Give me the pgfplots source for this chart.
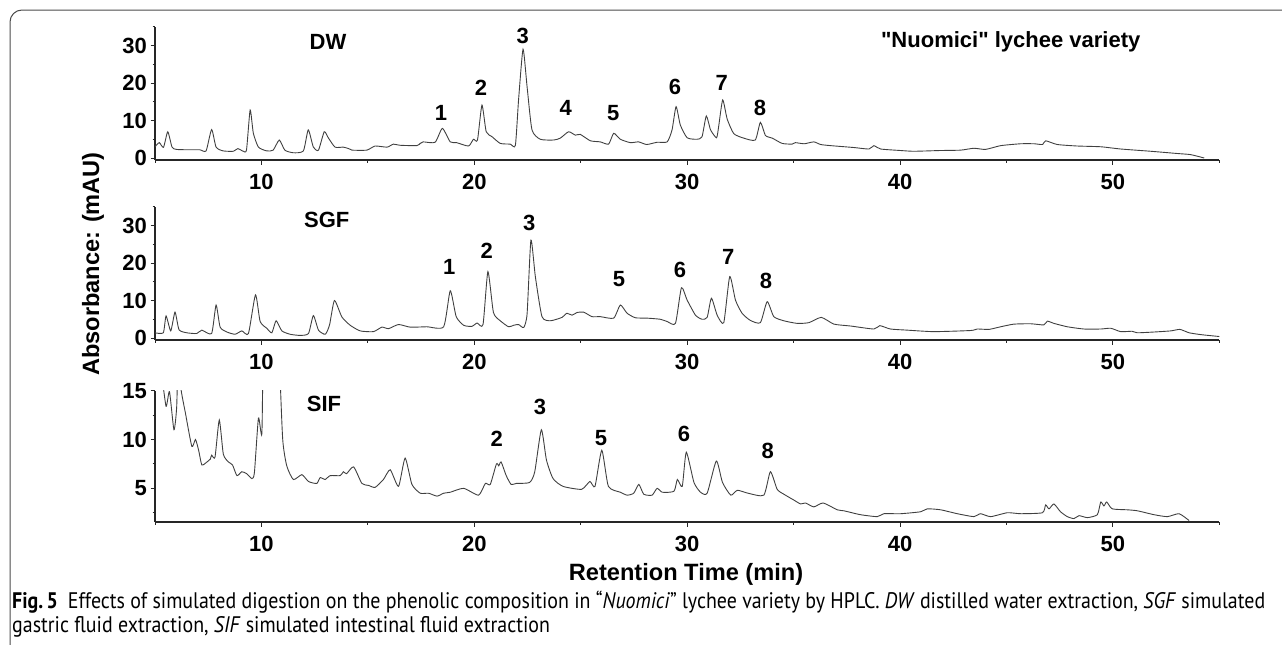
\documentclass[border=0pt]{standalone}
\usepackage{fontspec}
\setmainfont{Liberation Sans}[Ligatures=TeXOff]
\newfontfamily\capfont{PT Sans}
\usepackage{graphicx}
\usepackage{pgfplots}
\usepackage{pgfplotstable}
\pgfplotsset{compat=1.18}

\newcommand\lbl{\fontsize{22}{26}\selectfont\bfseries}
\newcommand\ttl{\fontsize{23.6}{28}\selectfont\bfseries}

% DW: distilled water extraction
\pgfplotstableread{
t y
5.0 3.0
5.2 4.1
5.4 2.85
5.6 7.0
5.8 2.9
6.0 2.3
6.5 2.2
7.1 2.2
7.4 1.9
7.66 7.6
7.87 2.9
8.2 1.9
8.68 1.8
8.89 2.5
9.15 1.8
9.3 2.2
9.47 12.8
9.62 6.6
9.86 2.9
10.25 1.9
10.55 2.1
10.84 4.8
11.1 2.1
11.5 1.4
11.97 1.9
12.2 7.5
12.44 2.9
12.68 2.1
12.95 7.0
13.15 5.3
13.46 2.9
13.85 2.9
14.1 2.5
14.25 2.1
14.95 2.1
15.34 3.2
15.9 2.9
16.2 3.7
16.5 3.4
17.3 3.3
17.46 3.9
17.6 4.3
18.16 4.2
18.5 7.9
18.87 4.3
19.17 4.1
19.73 3.2
19.96 5.0
20.15 4.8
20.36 14.1
20.56 7.0
20.83 5.7
21.22 3.9
21.69 3.7
21.93 3.4
22.08 15.5
22.29 29.0
22.48 19.0
22.71 7.5
23.1 5.0
23.73 4.8
24.04 5.3
24.43 7.0
24.75 6.1
24.98 6.3
25.45 4.6
25.92 4.3
26.31 3.7
26.55 6.6
26.86 5.0
27.33 4.1
27.72 4.3
28.1 3.6
28.59 4.2
29.06 4.3
29.29 7.5
29.48 13.7
29.68 8.8
30.0 5.4
30.47 5.0
30.7 5.7
30.9 11.2
31.1 7.5
31.38 5.4
31.48 8.4
31.67 15.5
31.88 10.4
32.19 6.5
32.66 5.3
33.2 4.8
33.44 9.5
33.68 6.0
34.0 5.3
34.46 3.9
34.93 3.7
35.08 4.1
35.5 3.8
35.95 4.3
36.27 3.6
36.74 3.3
37.83 2.8
38.54 2.4
38.77 3.3
39.09 2.4
40.03 2.0
40.65 1.8
41.9 2.0
42.85 2.1
43.47 2.6
44.02 2.3
44.73 3.3
45.67 3.8
46.3 3.8
46.7 3.6
46.84 4.6
47.39 3.6
48.33 3.2
49.43 3.0
50.37 2.4
51.78 1.8
53.03 1.2
53.66 0.9
54.29 0.0
}\dwdata

% SGF: simulated gastric fluid extraction
\pgfplotstableread{
t y
5.0 1.4
5.39 1.4
5.52 5.9
5.74 1.9
5.94 6.9
6.13 2.2
6.49 1.4
6.96 1.2
7.2 2.1
7.66 1.2
7.87 8.8
8.06 2.9
8.38 1.6
8.76 1.0
9.08 1.9
9.39 1.2
9.72 11.5
9.94 4.4
10.25 2.6
10.49 1.4
10.69 4.6
10.96 1.9
11.35 1.0
11.82 0.7
12.21 1.2
12.44 6.0
12.68 2.1
13.0 1.0
13.2 3.5
13.43 10.0
13.78 5.6
14.17 3.4
14.64 1.9
15.26 1.7
15.66 2.9
15.97 2.5
16.44 3.6
16.99 2.9
17.77 3.0
18.56 3.0
18.87 12.6
19.15 5.7
19.5 3.4
19.89 3.1
20.13 4.0
20.41 3.6
20.64 17.7
20.9 6.8
21.22 4.6
21.61 3.0
21.85 3.4
22.08 3.6
22.32 2.8
22.48 6.4
22.66 26.1
22.87 16.3
23.18 5.7
23.57 4.6
24.12 5.5
24.35 6.6
24.59 6.1
24.83 6.8
25.14 6.9
25.53 5.7
25.92 5.7
26.55 5.3
26.86 8.8
27.18 6.6
27.57 5.4
28.12 5.3
28.74 5.0
29.06 4.4
29.45 3.9
29.73 13.4
30.0 10.1
30.39 6.1
30.7 5.0
30.94 5.5
31.14 10.6
31.41 6.1
31.72 4.1
32.0 16.4
32.27 10.1
32.58 6.6
32.97 4.7
33.44 4.1
33.76 9.7
34.07 5.7
34.54 4.6
35.17 3.9
35.72 4.1
36.3 5.5
36.9 3.7
37.68 3.2
38.77 2.4
39.05 3.3
39.55 2.4
40.34 2.1
41.59 1.7
43.32 2.0
43.63 2.4
44.18 2.3
44.73 3.0
45.35 3.7
46.14 3.8
46.76 3.5
46.92 4.5
47.23 3.9
47.86 3.0
48.64 2.4
49.43 2.4
49.9 2.6
50.37 1.7
50.9 1.8
51.15 1.4
51.93 1.6
52.72 1.9
53.15 2.3
53.58 1.4
54.14 0.9
55.0 0.4
}\sgfdata

% SIF: simulated intestinal fluid extraction
\pgfplotstableread{
t y
5.3 17.0
5.52 13.4
5.68 14.9
5.89 11.0
6.02 13.4
6.1 20.0
6.2 15.5
6.43 12.7
6.73 9.3
6.9 10.0
7.05 8.9
7.2 7.4
7.44 7.7
7.6 8.0
7.66 8.4
7.82 8.2
8.02 12.0
8.21 8.5
8.45 7.7
8.64 7.4
8.85 6.3
9.08 6.7
9.31 6.5
9.55 6.0
9.67 6.6
9.86 12.2
10.02 10.6
10.1 20.0
10.5 40.0
10.85 18.0
11.0 10.0
11.19 7.3
11.5 5.9
11.9 6.4
12.21 5.7
12.6 5.5
12.76 6.1
12.99 5.9
13.23 6.3
13.7 6.3
13.85 6.7
14.0 6.5
14.33 7.2
14.72 5.5
15.03 5.3
15.34 5.1
15.73 5.9
16.05 6.9
16.44 5.2
16.75 8.1
17.07 5.4
17.46 4.5
17.85 4.5
18.25 4.2
18.56 4.5
18.87 4.6
19.5 5.0
20.2 4.3
20.52 5.5
20.75 5.4
21.04 7.5
21.15 7.3
21.26 7.7
21.5 6.3
21.73 5.4
21.97 5.5
22.6 5.6
22.84 6.7
23.15 11.0
23.39 7.9
23.7 6.0
24.17 5.2
25.04 4.9
25.43 5.7
25.67 5.2
25.99 8.9
26.3 5.2
26.86 4.6
27.18 4.3
27.49 4.5
27.73 5.4
27.96 4.4
28.35 4.3
28.59 5.0
28.83 4.6
29.38 4.7
29.54 5.9
29.77 5.2
29.96 8.7
30.32 5.6
30.63 4.6
30.94 4.5
31.37 7.8
31.66 5.6
32.05 4.3
32.36 4.8
32.86 4.5
33.6 4.3
33.91 6.7
34.23 4.9
34.54 4.4
35.01 3.8
35.33 3.4
35.56 3.5
35.95 3.1
36.39 3.5
37.05 2.8
37.36 2.7
38.14 2.3
38.93 2.1
39.24 2.4
40.03 2.4
40.97 2.6
41.28 2.9
41.91 2.8
42.69 2.4
43.47 2.1
43.78 2.4
44.26 2.1
45.04 2.5
45.67 2.4
46.69 2.5
46.84 3.3
47.0 2.9
47.23 3.4
47.54 2.6
47.86 2.1
48.17 1.9
48.41 2.2
48.8 2.0
49.27 2.3
49.43 3.6
49.58 3.2
49.71 3.6
49.97 2.9
50.68 2.8
51.15 2.7
51.93 2.3
52.56 2.1
53.11 2.4
53.58 1.7
}\sifdata

\pgfplotsset{
  chrom/.style={
    scale only axis, width=1064.3pt,
    xmin=5, xmax=55,
    axis lines=left,
    axis line style={-, line width=1.2pt, black!85},
    tick align=outside,
    major tick length=4.5pt, minor tick length=2.5pt,
    tick style={line width=1pt, black!85},
    xtick={10,20,...,50}, minor xtick={5,15,...,55},
    ticklabel style={font=\lbl},
    xticklabel style={yshift=-6pt},
    /pgf/number format/assume math mode=true,
  },
  trace/.style={black!75, line width=0.9pt, smooth, tension=0.35},
}

\begin{document}
\begin{tikzpicture}
\path[use as bounding box] (0pt,0pt) rectangle (1282pt,-645pt);
\draw[black!70, line width=1pt] (10pt,-645pt) -- (10pt,-22pt)
  arc[start angle=180, end angle=90, radius=12pt] -- (1282pt,-10pt);

\begin{axis}[chrom, at={(155pt,-160pt)}, anchor=south west,
  height=133.25pt, ymin=-0.53, ymax=35,
  ytick={0,10,20,30}, minor ytick={5,15,25,35}]
\addplot[trace] table[x=t, y=y] {\dwdata};
\end{axis}

\begin{axis}[chrom, at={(155pt,-340pt)}, anchor=south west,
  height=133.25pt, ymin=-0.53, ymax=35,
  ytick={0,10,20,30}, minor ytick={5,15,25,35}]
\addplot[trace] table[x=t, y=y] {\sgfdata};
\end{axis}

\begin{axis}[chrom, at={(155pt,-522pt)}, anchor=south west,
  height=131.3pt, ymin=1.55, ymax=15,
  ytick={5,10,15}, minor ytick={2.5,7.5,12.5}]
\addplot[trace] table[x=t, y=y] {\sifdata};
\end{axis}

% panel titles
\node[font=\lbl] at (328pt,-41.7pt) {DW};
\node[font=\lbl] at (1010.7pt,-42pt) {"Nuomici" lychee variety};
\node[font=\lbl] at (326.7pt,-220pt) {SGF};
\node[font=\lbl] at (324pt,-404.3pt) {SIF};

% peak numbers, DW
\node[font=\lbl] at (441pt,-113pt) {1};
\node[font=\lbl] at (481pt,-88pt) {2};
\node[font=\lbl] at (522.7pt,-35.7pt) {3};
\node[font=\lbl] at (565.7pt,-108.3pt) {4};
\node[font=\lbl] at (613.3pt,-113.3pt) {5};
\node[font=\lbl] at (675pt,-87.3pt) {6};
\node[font=\lbl] at (721.7pt,-82.7pt) {7};
\node[font=\lbl] at (760pt,-108.3pt) {8};
% peak numbers, SGF
\node[font=\lbl] at (449.3pt,-267.3pt) {1};
\node[font=\lbl] at (486.7pt,-250.7pt) {2};
\node[font=\lbl] at (529.3pt,-223.3pt) {3};
\node[font=\lbl] at (619pt,-279pt) {5};
\node[font=\lbl] at (680pt,-270pt) {6};
\node[font=\lbl] at (728.3pt,-256.7pt) {7};
\node[font=\lbl] at (766pt,-280.7pt) {8};
% peak numbers, SIF
\node[font=\lbl] at (496.7pt,-439.3pt) {2};
\node[font=\lbl] at (540pt,-406.7pt) {3};
\node[font=\lbl] at (601pt,-437.7pt) {5};
\node[font=\lbl] at (684pt,-434pt) {6};
\node[font=\lbl] at (767.7pt,-451pt) {8};

% axis titles
\node[font=\ttl, rotate=90] at (93pt,-264pt) {Absorbance: (mAU)};
\node[font=\ttl, anchor=base] at (686pt,-580pt) {Retention Time (min)};

% caption
\node[anchor=base west, inner sep=0pt] at (12pt,-608pt) {%
  \resizebox{1253pt}{\height}{\capfont\fontsize{22.5}{24.5}\selectfont
  \begin{tabular}[t]{@{}l@{}}
  \textbf{Fig.\,5}\enspace Effects of simulated digestion on the phenolic composition in “\textit{Nuomici}” lychee variety by HPLC. \textit{DW} distilled water extraction, \textit{SGF} simulated\\
  gastric fluid extraction, \textit{SIF} simulated intestinal fluid extraction
  \end{tabular}}};
\end{tikzpicture}
\end{document}
